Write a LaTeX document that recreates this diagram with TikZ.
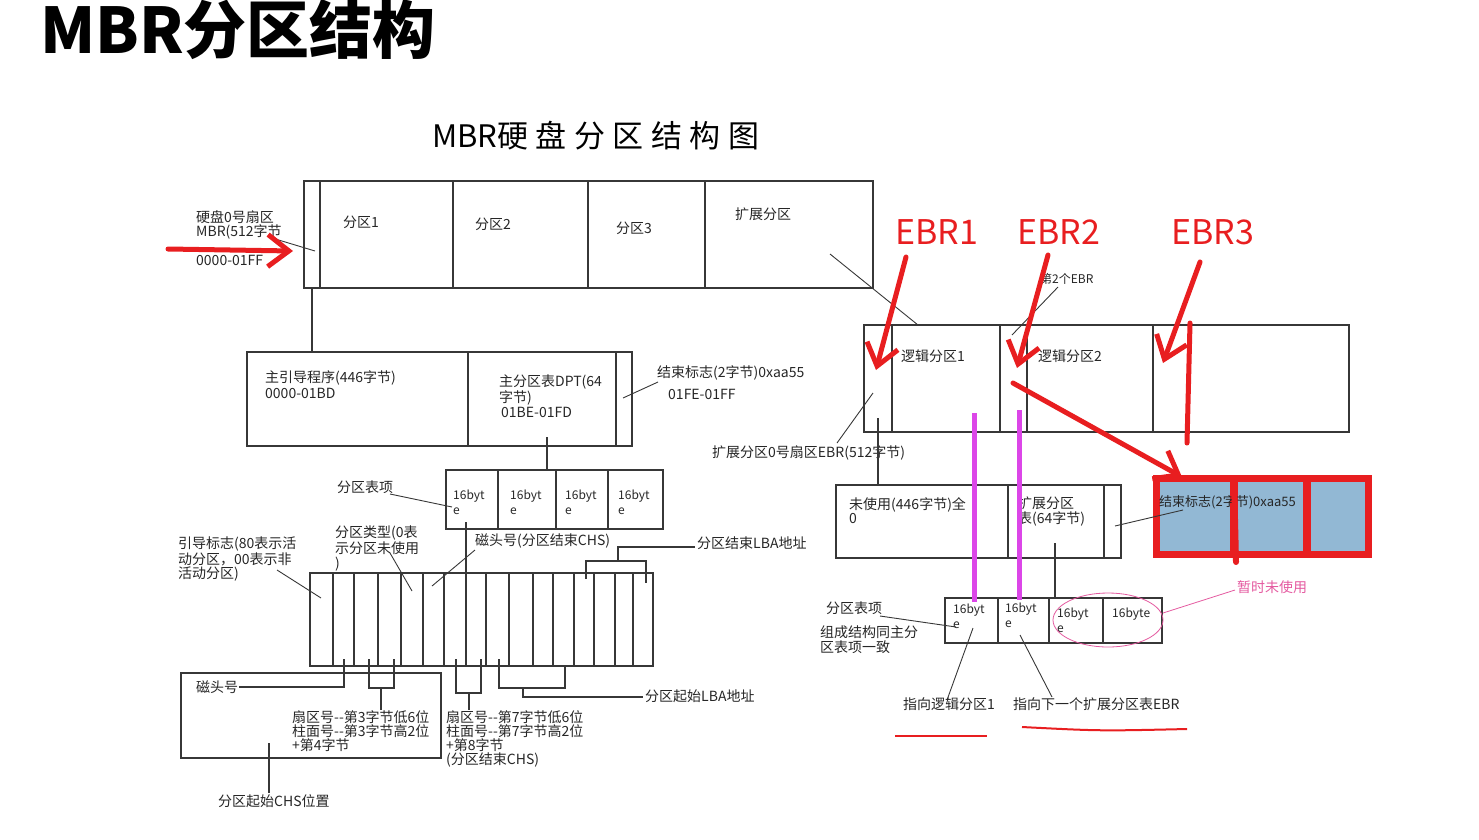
\documentclass[tikz,border=0pt]{standalone}
\usepackage{fontspec}
\setmainfont{Noto Sans CJK SC}
\usetikzlibrary{arrows.meta}
\definecolor{ebrred}{RGB}{232,30,32}
\definecolor{linkviolet}{RGB}{220,70,232}
\definecolor{notepink}{RGB}{228,90,160}
\definecolor{cellblue}{RGB}{146,184,212}
\definecolor{linegray}{RGB}{55,55,55}
\tikzset{
  frame/.style={draw=linegray, line width=1.3pt},
  leader/.style={draw=linegray, line width=0.9pt},
  lbl/.style={anchor=west, inner sep=0pt, text=black!85, align=left, font=\fontsize{14}{14.5}\selectfont},
  small/.style={lbl, font=\fontsize{12}{15}\selectfont},
  ebrtag/.style={text=ebrred, inner sep=0pt, font=\fontsize{34}{40}\selectfont},
  redarrow/.style={draw=ebrred, line width=5pt, line cap=round, line join=round, -{Straight Barb[length=21pt,width=32pt]}},
  redline/.style={draw=ebrred, line width=5pt, line cap=round},
  violetline/.style={draw=linkviolet, line width=5pt},
}
\begin{document}
\begin{tikzpicture}[x=1pt, y=-1pt]
\useasboundingbox (0,0) rectangle (1479,839);

% 标题
\node[anchor=west, inner sep=0pt, font=\fontsize{63}{63}\selectfont\bfseries] (title) at (40,29) {MBR分区结构};
\node[anchor=west, inner sep=0pt, font=\fontsize{31}{31}\selectfont] (subtitle) at (432,136) {MBR{\addfontfeature{LetterSpace=24}硬盘分区结构图}};

% 整个硬盘：MBR + 四个分区
\draw[frame] (304,181) rectangle (873,288);
\foreach \x in {320,453,588,705} \draw[frame] (\x,181) -- (\x,288);
\node[lbl] (part1) at (343,222) {分区1};
\node[lbl] (part2) at (475,224) {分区2};
\node[lbl] (part3) at (616,228) {分区3};
\node[lbl] (extpart) at (735,214) {扩展分区};

% 0号扇区说明
\node[lbl, anchor=north west] (sec0) at (196,210) {硬盘0号扇区\\MBR(512字节};
\node[lbl] (sec0range) at (196,260) {0000-01FF};
\draw[leader] (272,238) -- (315,251);
\draw[redarrow] (168,249) -- (293,251);

% MBR 的三部分
\draw[frame] (312,288) -- (312,352);
\draw[frame] (247,352) rectangle (632,446);
\draw[frame] (468,352) -- (468,446) (616,352) -- (616,446);
\node[lbl, anchor=north west, font=\fontsize{14}{16}\selectfont] (bootcode) at (265,370) {主引导程序(446字节)\\0000-01BD};
\node[lbl, anchor=north west] (dpt) at (499,375) {主分区表DPT(64\\字节)};
\node[lbl] (dptrange) at (501,412) {01BE-01FD};
\node[lbl] (endflag) at (657,373) {结束标志(2字节)0xaa55};
\node[lbl] (endrange) at (668,394) {01FE-01FF};
\draw[leader] (623,398) -- (658,382);

% 四个分区表项
\draw[frame] (547,437) -- (547,470);
\draw[frame] (446,470) rectangle (663,529);
\foreach \x in {498,556,608} \draw[frame] (\x,470) -- (\x,529);
\foreach \x/\n in {453/1,510/2,565/3,618/4}
  \node[small, anchor=north west] (entry\n) at (\x,490) {16byt\\e};
\node[lbl] (entrylbl) at (337,487) {分区表项};
\draw[leader] (390,494) -- (452,507);
\draw[frame] (466,522) -- (466,573);

% 一个表项的16个字节
\draw[frame] (310,573) rectangle (653,666);
\foreach \x in {333,354,378,401,423,444,466,486,509,533,553,574,594,615,633}
  \draw[frame] (\x,573) -- (\x,666);

\node[lbl, anchor=north west] (bootflag) at (178,537) {引导标志(80表示活\\动分区，00表示非\\活动分区)};
\draw[leader] (277,570) -- (321,598);
\node[lbl, anchor=north west] (ptype) at (335,526) {分区类型(0表\\示分区未使用\\)};
\draw[leader] (390,553) -- (412,591);
\node[lbl] (endhead) at (475,541) {磁头号(分区结束CHS)};
\draw[leader] (475,550) -- (432,586);
\node[lbl] (endlba) at (697,543) {分区结束LBA地址};
\draw[frame] (695,547) -- (618,547) -- (618,561);
\draw[frame] (586,579) -- (586,561) -- (646,561) -- (646,583);

% 起始CHS、结束CHS、起始LBA
\draw[frame] (181,673) rectangle (441,758);
\node[lbl] (starthead) at (196,687) {磁头号};
\draw[frame] (239,687) -- (344,687) -- (344,659);
\draw[frame] (369,659) -- (369,688) -- (394,688) -- (394,659);
\draw[frame] (381,688) -- (381,710);
\node[lbl, anchor=north west, font=\fontsize{14}{14}\selectfont] (startcs) at (292,710) {扇区号-{}-第3字节低6位\\柱面号-{}-第3字节高2位\\+第4字节};
\draw[frame] (456,659) -- (456,693) -- (481,693) -- (481,659);
\draw[frame] (469,693) -- (469,710);
\node[lbl, anchor=north west, font=\fontsize{14}{14}\selectfont] (endcs) at (446,710) {扇区号-{}-第7字节低6位\\柱面号-{}-第7字节高2位\\+第8字节\\(分区结束CHS)};
\draw[frame] (499,659) -- (499,688) -- (565,688) -- (565,665);
\draw[frame] (523,688) -- (523,697) -- (643,697);
\node[lbl] (startlba) at (645,696) {分区起始LBA地址};
\draw[frame] (269,743) -- (269,793);
\node[lbl] (startchs) at (218,801) {分区起始CHS位置};

% 扩展分区里的逻辑分区
\draw[leader] (830,254) -- (918,325);
\draw[frame] (864,325) rectangle (1349,432);
\foreach \x in {892,1000,1027,1153} \draw[frame] (\x,325) -- (\x,432);
\node[lbl] (logic1) at (901,356) {逻辑分区1};
\node[lbl] (logic2) at (1038,356) {逻辑分区2};
\node[small] (ebr2lbl) at (1040,279) {第2个EBR};
\draw[leader] (1058,287) -- (1012,335);
\node[lbl] (ebr0lbl) at (712,453) {扩展分区0号扇区EBR(512字节)};
\draw[leader] (837,443) -- (873,393);
\draw[frame] (878,418) -- (878,485);

% EBR 的内容
\draw[frame] (836,485) rectangle (1121,558);
\draw[frame] (1008,485) -- (1008,558) (1104,485) -- (1104,558);
\node[lbl, anchor=north west] (unused) at (849,497) {未使用(446字节)全\\0};
\node[lbl, anchor=north west] (ebrtable) at (1018,497) {扩展分区\\表(64字节)};
\draw[frame] (1055,543) -- (1055,598);

% 放大的结束标志
\fill[ebrred] (1153,475) rectangle (1372,558);
\fill[cellblue] (1160,482) rectangle (1230,551);
\fill[cellblue] (1238,482) rectangle (1303,551);
\fill[cellblue] (1311,482) rectangle (1365,551);
\node[lbl, font=\fontsize{13}{14}\selectfont] (ebrend) at (1159,502) {结束标志(2字节)0xaa55};
\draw[leader] (1115,526) -- (1183,510);
\draw[ebrred, line width=7pt] (1307,478) -- (1307,555);
\draw[redline, line width=6pt] (1234,478) -- (1236,562);

% 红色标注
\node[ebrtag] (ebr1) at (937,232) {EBR1};
\node[ebrtag] (ebr2) at (1059,232) {EBR2};
\node[ebrtag] (ebr3) at (1213,232) {EBR3};
\draw[redarrow] (906,257) -- (876,370);
\draw[redarrow] (1048,255) -- (1017,368);
\draw[redarrow] (1200,262) -- (1163,363);
\draw[redarrow] (1013,383) -- (1182,477);
\draw[redline] (1190,323) -- (1187,443);

% EBR 的分区表项
\draw[frame] (945,598) rectangle (1162,643);
\foreach \x in {998,1049,1103} \draw[frame] (\x,598) -- (\x,643);
\node[small, anchor=north west] (ebrent1) at (953,604) {16byt\\e};
\node[small, anchor=north west] (ebrent2) at (1005,603) {16byt\\e};
\node[small, anchor=north west] (ebrent3) at (1057,608) {16byt\\e};
\node[small] (ebrent4) at (1112,614) {16byte};
\draw[violetline] (974,413) -- (974,602);
\draw[violetline] (1019,410) -- (1019,600);
\draw[notepink, line width=0.8pt] (1108,620) ellipse [x radius=55, y radius=27];
\node[lbl, text=notepink] (notused) at (1237,587) {暂时未使用};
\draw[notepink, line width=0.8pt] (1163,613) -- (1235,590);
\node[lbl] (ebrentlbl) at (826,608) {分区表项};
\draw[leader] (880,616) -- (956,627);
\node[lbl, anchor=north west] (samestruct) at (820,626) {组成结构同主分\\区表项一致};
\draw[leader] (973,628) -- (947,700);
\draw[leader] (1020,635) -- (1052,697);
\node[lbl] (tologic) at (903,704) {指向逻辑分区1};
\node[lbl] (tonext) at (1013,704) {指向下一个扩展分区表EBR};
\draw[ebrred, line width=2pt] (895,736) -- (987,736);
\draw[ebrred, line width=2pt] (1022,727) .. controls (1100,731) .. (1187,729);

\end{tikzpicture}
\end{document}
